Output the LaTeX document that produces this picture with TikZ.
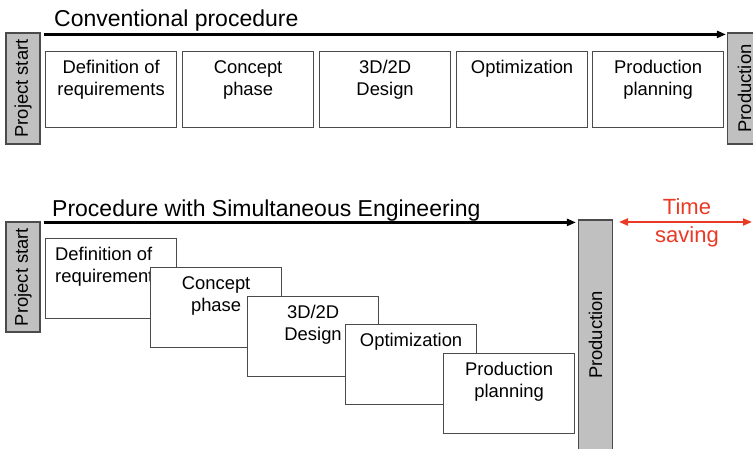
\documentclass[tikz,border=0pt]{standalone}
\usepackage{fontspec}
\setmainfont{Liberation Sans}
\usepackage{graphicx}
\usetikzlibrary{arrows.meta}

\definecolor{barfill}{RGB}{192,192,192}
\definecolor{edgegray}{RGB}{75,75,75}
\definecolor{savered}{RGB}{234,58,38}

\begin{document}
\begin{tikzpicture}[x=1pt, y=-1pt,
  stage/.style={draw=edgegray, line width=1.2pt, fill=white,
                minimum width=131pt, minimum height=76pt,
                inner sep=0pt, anchor=north west},
  stxt/.style={anchor=north, align=center, inner sep=0pt,
               font=\fontsize{18.4}{22}\selectfont},
  bar/.style={draw=edgegray, line width=1.2pt, fill=barfill,
              minimum width=34pt, inner sep=0pt,
              font=\fontsize{18.4}{22}\selectfont},
  ttl/.style={anchor=base west, inner sep=0pt,
              font=\fontsize{23}{27}\selectfont},
  timeline/.style={-{Triangle[length=9pt,width=7pt]}, line width=2.4pt},
  gain/.style={{Triangle[length=9pt,width=7pt]}-{Triangle[length=9pt,width=7pt]},
               line width=2pt, savered}
]
  \useasboundingbox (0,0) rectangle (753,449);
  \clip (0,0) rectangle (753,449);

  % Conventional procedure (top)
  \node[ttl] at (54,27) (t1) {Conventional procedure};
  \node[bar, minimum height=111pt] at (23,88.5)    (ps1) {\rotatebox{90}{Project start}};
  \node[bar, minimum height=111pt] at (744.5,88.5) (pr1) {\rotatebox{90}{Production}};

  \node[stage] at (45,51)  (c1) {};
  \node[stxt] at ([yshift=-9pt]c1.north) (c1t) {Definition of\\requirements};
  \node[stage] at (182,51) (c2) {};
  \node[stxt] at ([yshift=-9pt]c2.north) (c2t) {Concept\\phase};
  \node[stage] at (319,51) (c3) {};
  \node[stxt] at ([yshift=-9pt]c3.north) (c3t) {3D/2D\\Design};
  \node[stage] at (456,51) (c4) {};
  \node[stxt] at ([yshift=-9pt]c4.north) (c4t) {Optimization};
  \node[stage] at (592,51) (c5) {};
  \node[stxt] at ([yshift=-9pt]c5.north) (c5t) {Production\\planning};

  \draw[timeline] ([shift={(3,2)}]ps1.north east) -- ([shift={(-1,2)}]pr1.north west);

  % Simultaneous engineering (bottom)
  \node[ttl] at (52,217) (t2) {Procedure with Simultaneous Engineering};
  \node[bar, minimum height=110pt] at (23,277)    (ps2) {\rotatebox{90}{Project start}};
  \node[bar, minimum height=230pt] at (595.5,335) (pr2) {\rotatebox{90}{Production}};

  \node[stage, minimum height=80pt] at (45,238)  (s1) {};
  \node[stxt, anchor=north west, align=left]
       at ([shift={(10,9)}]s1.north west) (s1t) {Definition of\\requirements};
  \node[stage, minimum height=80pt] at (150,267) (s2) {};
  \node[stxt] at ([yshift=-9pt]s2.north) (s2t) {Concept\\phase};
  \node[stage, minimum height=80pt] at (247,296) (s3) {};
  \node[stxt] at ([yshift=-9pt]s3.north) (s3t) {3D/2D\\Design};
  \node[stage, minimum height=80pt] at (345,324) (s4) {};
  \node[stxt] at ([yshift=-9pt]s4.north) (s4t) {Optimization};
  \node[stage, minimum height=80pt] at (443,353) (s5) {};
  \node[stxt] at ([yshift=-9pt]s5.north) (s5t) {Production\\planning};

  \draw[timeline] ([shift={(3,1)}]ps2.north east) -- ([shift={(-2,3)}]pr2.north west);

  % Time saving
  \coordinate (g1) at (619,222);
  \coordinate (g2) at (752,222);
  \draw[gain] (g1) -- (g2);
  \node[anchor=north, align=center, inner sep=0pt, text=savered,
        font=\fontsize{22}{28}\selectfont] at (687,198) (ts) {Time\\saving};

\end{tikzpicture}
\end{document}
